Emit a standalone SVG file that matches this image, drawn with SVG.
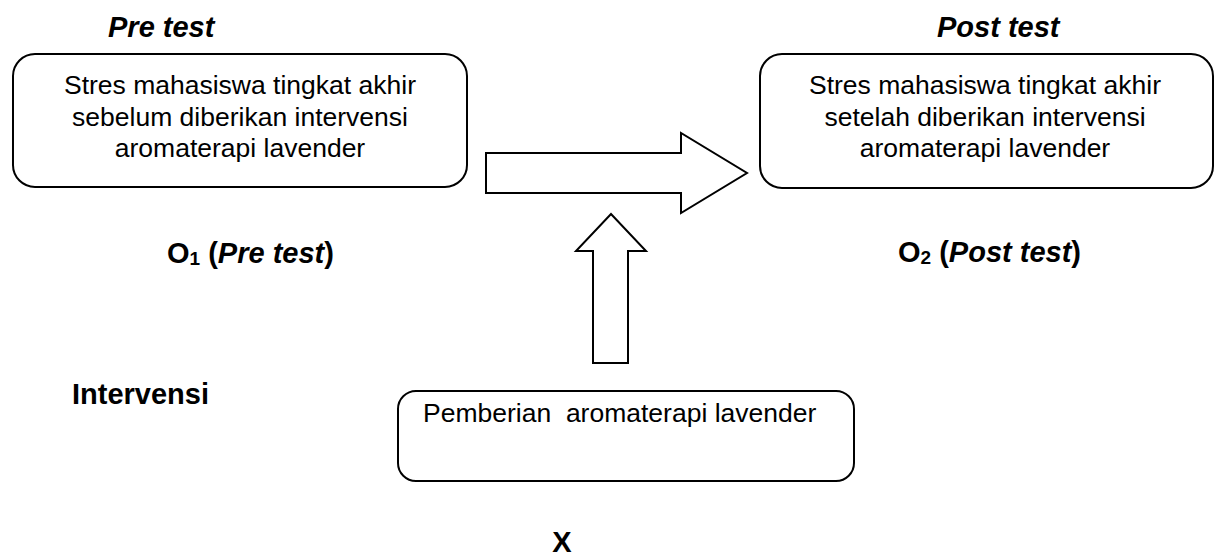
<svg xmlns="http://www.w3.org/2000/svg" width="1214" height="557" viewBox="0 0 1214 557">
<style>
.box{fill:#fff;stroke:#000;stroke-width:2}
.arr{fill:#fff;stroke:#000;stroke-width:2;stroke-linejoin:miter}
.t{font-family:"Liberation Sans",Arial,sans-serif;font-size:26.5px;fill:#000}
.b{font-family:"Liberation Sans",Arial,sans-serif;font-size:29px;font-weight:bold;fill:#000}
.i{font-style:italic}
</style>
<rect width="1214" height="557" fill="#fff"/>
<g id="label-pretest"><text class="b i" x="108" y="37">Pre test</text></g>
<g id="label-posttest"><text class="b i" x="937" y="37">Post test</text></g>
<g id="node-pre">
<rect class="box" x="13" y="54" width="454" height="133" rx="22"/>
<text class="t" text-anchor="middle" x="240" y="94">Stres mahasiswa tingkat akhir</text>
<text class="t" text-anchor="middle" x="240" y="125.5">sebelum diberikan intervensi</text>
<text class="t" text-anchor="middle" x="240" y="157">aromaterapi lavender</text>
</g>
<g id="node-post">
<rect class="box" x="760" y="54" width="453" height="134" rx="22"/>
<text class="t" text-anchor="middle" x="985" y="94">Stres mahasiswa tingkat akhir</text>
<text class="t" text-anchor="middle" x="985" y="125.5">setelah diberikan intervensi</text>
<text class="t" text-anchor="middle" x="985" y="157">aromaterapi lavender</text>
</g>
<g id="label-o1"><text class="b" x="167" y="263">O<tspan font-size="19" dy="2">1</tspan><tspan dy="-2"> (</tspan><tspan class="i">Pre test</tspan>)</text></g>
<g id="label-o2"><text class="b" x="898" y="262">O<tspan font-size="19" dy="2">2</tspan><tspan dy="-2"> (</tspan><tspan class="i">Post test</tspan>)</text></g>
<g id="label-intervensi"><text class="b" x="72" y="404">Intervensi</text></g>
<g id="node-intervention">
<rect class="box" x="398" y="391" width="456" height="90" rx="18"/>
<text class="t" x="423" y="422" xml:space="preserve">Pemberian  aromaterapi lavender</text>
</g>
<g id="label-x"><text class="b" text-anchor="middle" x="562" y="552">X</text></g>
<g id="connectors">
<polygon class="arr" points="486,153 681,153 681,133 747,173 681,213 681,193 486,193"/>
<polygon class="arr" points="611,214 646,251 628,251 628,363 593,363 593,251 576,251"/>
</g>
</svg>
